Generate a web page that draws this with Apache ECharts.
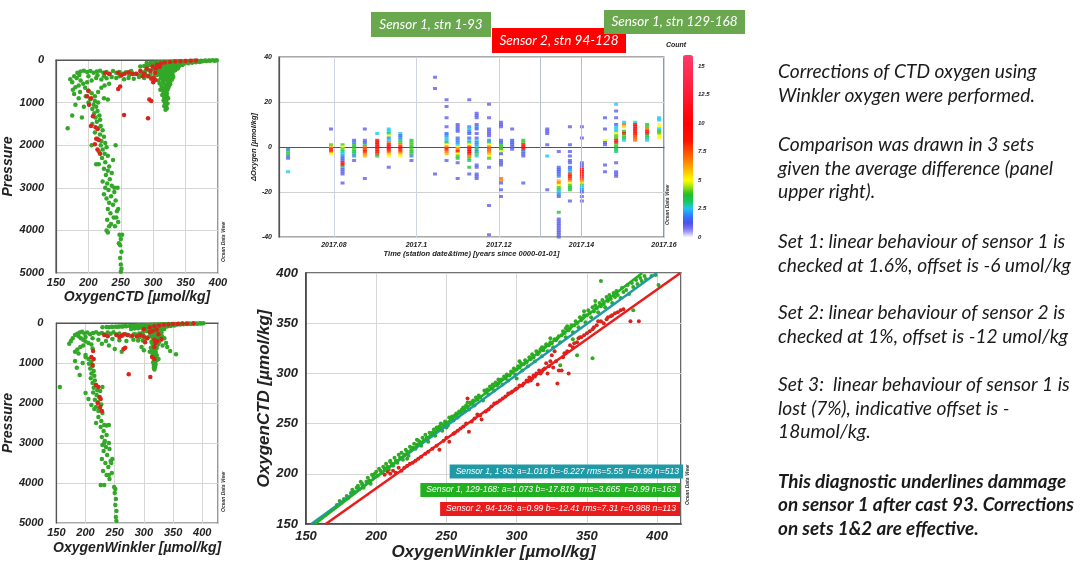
<!DOCTYPE html>
<html><head><meta charset="utf-8">
<script src="https://cdn.jsdelivr.net/npm/echarts@6/dist/echarts.min.js"></script>
<style>html,body{margin:0;padding:0;background:#fff}#c{width:1086px;height:563px}</style>
</head><body><div id="c"></div>
<script>
// ---------- DATA ----------
// Profile panel 1: [OxygenCTD, Pressure]
const ctdGreen = [[398,5],[392,8],[386,10],[380,12],[374,15],[368,18],[362,20],[356,22],[350,25],[344,28],[338,30],[332,35],[326,40],[320,45],[314,50],[308,55],[302,60],[296,65],[290,70],
[395,15],[388,20],[382,25],[376,28],[370,32],[364,36],[358,40],[352,45],[346,50],[340,55],[334,60],[328,70],[322,80],[316,90],[310,100],[304,110],[298,120],[292,130],[286,140],[280,150],
[372,45],[366,55],[360,65],[354,75],[348,85],[342,95],[336,110],[330,125],[324,140],[318,160],[312,180],[306,200],[300,220],[294,240],[288,260],[282,280],
[345,120],[340,140],[335,160],[330,180],[326,200],[322,230],[318,260],[314,290],[310,320],[306,350],[302,380],
[338,200],[334,240],[330,280],[327,320],[324,360],[321,400],[318,450],[315,500],[330,350],[328,420],[325,480],[323,550],[320,600],[318,650],[316,700],[322,700],[320,750],[318,800],[321,850],[319,900],[320,950],[318,1000],[319,1050],[320,1100],[319,1170],[312,420],[308,480],[310,550],[313,620],[316,760],[324,620],[326,520],[311,700],[314,820],[317,880],
[300,80],[306,75],[312,70],[318,65],[324,60],[330,55],[336,50],[342,45],[348,40],[354,35],[360,30],[296,100],[302,95],[308,90],[314,85],[320,80],[326,75],[332,70],[338,65],[344,60],[303,130],[309,125],[315,120],[321,115],[327,110],[333,105],[339,100],[305,170],[311,160],[317,150],[323,145],[329,140],[335,135],[307,230],[313,220],[319,210],[325,205],[331,195],[309,280],[315,270],[321,260],[327,250],[333,240],[311,330],[317,320],[323,310],[329,300],[313,380],[319,370],[325,360],[331,400],[314,430],[320,420],[326,440],[317,470],[323,500],[329,460],[316,540],[321,580],[326,570],[319,620],[323,660],[317,720],[321,780],[323,900],[316,950],[322,1020],[317,1080],[321,1140],
[172,450],[175,520],[178,380],[183,300],[188,270],[193,250],[198,280],[203,260],[208,300],[213,270],[218,250],[223,300],[228,280],[233,320],[238,260],[243,300],[248,280],[253,320],[258,290],[263,350],[268,310],[273,330],[278,360],[283,300],[288,340],[248,380],[243,420],[236,400],[228,430],[220,460],[212,420],[205,480],[198,520],[192,560],[185,600],[180,640],[176,700],[188,480],[182,420],[262,420],[270,440],[278,400],[286,420],[294,380],[255,450],[296,320],[266,260],[186,350],[200,380],[214,360],[224,380],
[195,650],[200,720],[205,780],[196,850],[203,920],[210,960],[215,1000],[208,1050],[212,1100],[206,1150],[214,1200],[209,1250],[217,1300],[211,1350],[218,1400],[213,1450],[206,1500],[219,1550],[215,1600],[222,1650],[210,1700],[218,1750],[224,1800],[214,1850],[220,1900],[226,1950],[219,2000],[228,2050],[222,2100],[216,2150],[225,2200],[230,2250],[221,2300],[226,2400],[216,2450],[232,2500],[224,2550],[230,2600],[236,2650],[227,2700],[233,2800],[222,2850],[229,2900],[236,2950],[226,3000],[231,3050],[240,3100],[224,3150],[235,3200],[228,3250],[242,3300],[232,3350],[238,3400],[230,3500],[244,3550],[234,3600],[239,3700],[229,3750],[246,3800],[235,3850],[241,3900],[230,4050],[248,4100],[250,4200],[249,4350],[251,4500],[249,4650],[250,4800],[251,4900],[250,4970],
[168,1600],[175,1300],[185,900],[180,1050],[190,1350],[178,800],[193,1100],[200,1000],[187,750],[230,930],[224,900],[243,3700],[246,3500],[240,3000],[245,3000],[242,2000],[238,2350],[212,2450],[205,2000],[228,4000],[232,3900],[247,4300],[252,4100],[210,850],[215,750],[220,650],[225,600],[232,560]];
const ctdRed = [[200,720],[198,850],[204,900],[201,1050],[207,1320],[204,1550],[211,1580],[214,1620],[212,1850],[216,1880],[210,1980],[218,2200],[214,2100],[255,1290],[292,1370],[294,930],[297,960],[300,520],[303,470],[300,420],[292,380],[286,320],[280,260],[274,320],[268,330],[262,290],[256,320],[251,360],[246,300],[246,680],[249,620],[226,300],[232,330],[299,150],[306,110],[312,80],[318,60],[326,45],[334,35],[342,28],[350,22],[358,15],[366,10],[290,200],[296,250],[304,200],[310,160],[303,300],[297,440],[284,380]];
// Profile panel 2: [OxygenWinkler, Pressure]
const winkGreen = [[402,5],[396,8],[390,10],[384,12],[378,14],[372,16],[366,18],[360,20],[354,22],[348,25],[342,28],[336,30],[330,33],[324,36],[318,40],[312,45],[306,50],[300,55],[294,60],[288,65],[282,70],[276,75],[270,80],[264,85],[258,90],[252,95],[246,100],[240,105],
[398,12],[392,16],[386,20],[380,24],[374,28],[368,32],[362,36],[356,40],[350,45],[344,50],[338,55],[332,60],[326,70],[320,80],[314,90],[308,100],[302,110],[296,120],[290,130],[284,140],[278,150],
[352,60],[346,75],[340,90],[334,105],[328,120],[322,140],[316,160],[310,180],[304,200],[298,230],[292,260],[286,290],
[335,150],[330,180],[326,210],[322,240],[318,270],[314,300],[310,330],[306,360],[302,400],[298,440],[329,260],[325,300],[322,340],[320,380],[318,420],[316,460],[314,500],[320,520],[317,560],[319,600],[321,640],[316,680],[320,720],[318,760],[315,800],[319,850],[317,900],[320,950],[318,1000],[317,1050],[319,1100],[318,1160],[330,420],[335,380],[338,500],[340,600],[332,560],[326,480],[312,620],[310,720],[322,820],[355,780],[345,700],[300,680],[296,600],[325,900],
[305,70],[311,65],[317,60],[323,55],[329,50],[335,45],[341,40],[347,35],[353,30],[359,26],[300,95],[306,90],[312,85],[318,80],[324,75],[330,70],[336,65],[342,60],[305,130],[311,125],[317,120],[323,115],[329,110],[335,100],[308,170],[314,160],[320,150],[326,145],[332,135],[310,220],[316,210],[322,200],[328,190],[312,270],[318,260],[324,250],[330,240],[313,320],[319,310],[325,300],[331,330],[315,370],[321,360],[327,350],[317,420],[323,440],[313,470],[319,510],[324,540],[316,580],[322,620],[318,660],[315,740],[321,780],[318,880],[322,930],[316,980],[320,1040],[317,1120],[262,88],[255,92],[268,78],[280,72],[292,62],[245,96],[236,100],[229,108],
[175,450],[178,380],[172,520],[182,300],[186,270],[190,240],[194,220],[198,260],[203,240],[208,280],[213,250],[218,230],[223,270],[228,250],[233,290],[238,240],[243,270],[248,230],[253,290],[258,260],[263,310],[268,280],[273,300],[278,330],[283,280],[288,320],[293,350],[298,300],[188,330],[192,380],[196,420],[200,460],[205,500],[210,540],[196,560],[191,600],[186,660],[182,720],[200,350],[212,380],[222,420],[235,450],[246,400],[258,430],[270,450],[282,420],[240,560],[228,520],[250,650],[262,720],[290,440],[212,640],[200,800],[188,760],
[200,850],[205,900],[210,960],[206,1020],[212,1080],[208,1140],[214,1200],[210,1260],[215,1320],[209,1380],[216,1440],[212,1500],[218,1560],[214,1620],[220,1680],[213,1740],[219,1800],[224,1860],[216,1920],[221,1980],[227,2040],[218,2100],[224,2160],[229,2250],[222,2350],[227,2450],[218,2500],[232,2550],[236,2560],[226,2600],[231,2700],[236,2800],[228,2850],[233,2950],[240,3000],[229,3050],[235,3100],[241,3150],[231,3200],[237,3300],[228,3400],[243,3450],[234,3500],[239,3600],[230,3700],[245,3750],[236,3800],[241,3900],[232,4050],[249,4100],[251,4150],[250,4250],[252,4400],[251,4550],[253,4700],[252,4850],[253,4950],
[156,1600],[185,1120],[190,1300],[195,1000],[182,950],[200,1750],[205,1900],[210,2050],[215,2150],[222,2200],[240,2550],[244,3500],[246,3400],[226,4050],[240,3800],[232,3000],[229,1600],[225,1700]];
const winkRed = [[213,700],[210,850],[214,900],[212,1050],[218,1550],[222,1600],[224,1850],[226,1900],[221,2000],[228,2200],[225,2100],[274,1280],[311,1350],[314,850],[318,900],[320,500],[323,450],[318,420],[306,380],[300,340],[294,300],[288,340],[280,320],[272,300],[266,280],[262,320],[258,350],[253,300],[265,650],[268,620],[232,300],[238,330],[300,150],[310,110],[318,80],[326,60],[334,45],[342,35],[350,28],[358,22],[366,15],[374,10],[385,5],[310,230],[315,200],[322,170],[325,280],[318,600],[330,400],[302,480]];
// Delta oxygen panel: station time columns and [dOxygen, count] cells
const dTimes = [2017.0689,2017.0793,2017.0821,2017.0849,2017.0875,2017.0905,2017.0933,2017.0961,2017.0988,2017.1045,2017.1073,2017.1100,2017.1128,2017.1146,2017.1176,2017.1205,2017.1232,2017.1259,2017.1317,2017.1345,2017.1372,2017.1401,2017.1457,2017.1484,2017.1503,2017.1530,2017.1559,2017.1588];
const dCells = [
[[-1,1],[-2,3],[-3,4],[-4,2],[-5,1],[-11,2.5]],
[[8,1],[1,4],[0,6],[-1,9],[-2,8],[-3,5]],
[[1,4],[0,5],[-1,4],[-2,3],[-3,2.5],[-4,2],[-5,1.5],[-6,1],[-7,9],[-8,10],[-9,3],[-10,1],[-11,1],[-12,1],[-16,1]],
[[3,1],[2,2],[1,3.5],[0,3.5],[-1,4],[-2,3.5],[-3,3],[-4,2],[-6,1]],
[[8,1],[3,1],[2,1.5],[1,3],[0,7],[-1,8],[-2,9],[-3,7],[-4,6],[-14,1]],
[[6,2.5],[3,9],[2,10],[1,10],[0,9.5],[-1,9],[-2,9],[-3,8],[-4,3.5]],
[[8,2.5],[7,2.5],[6,3],[5,5],[4,2],[3,2.5],[2,7],[1,10],[0,11],[-1,10],[-2,8],[-3,6],[-4,5],[-9,1]],
[[6,2.5],[5,1.5],[4,2],[3,3],[2,4],[1,7],[0,9],[-1,9],[-2,8],[-3,6],[-4,5]],
[[3,3.5],[2,4],[1,4],[0,3.5],[-1,4],[-2,3.5],[-3,4],[-4,2],[-6,1]],
[[31,1],[26,1],[-12,1]],
[[21,1],[18,1],[13,1],[9,1],[6,1.5],[5,2],[4,2.5],[3,2.5],[2,3.5],[1,5],[0,7],[-1,9],[-2,7],[-3,6],[-6,1]],
[[10,1],[9,1],[8,1],[7,1.5],[4,1],[3,2],[2,2],[1,2.5],[0,5],[-1,7],[-2,9],[-3,5],[-4,4],[-5,3.5],[-7,1],[-14,1]],
[[21,1],[9,2],[8,2.5],[7,2],[6,1.5],[4,1],[3,2.5],[2,3],[1,5],[0,8],[-1,9],[-2,10],[-3,9],[-4,7],[-5,4],[-6,3],[-9,3.5],[-12,1]],
[[15,1],[14,1],[13,1],[10,1],[9,2],[8,1.5],[6,1],[4,1],[3,2.5],[2,2],[1,2],[0,2.5],[-1,3.5],[-2,2],[-3,4],[-4,2.5],[-8,1],[-9,1],[-12,1],[-13,1],[-14,1]],
[[19,1],[13,1],[8,1],[7,1],[6,1],[5,1],[3,2],[2,3],[1,5],[0,7],[-1,7.5],[-2,7],[-3,6],[-4,5],[-5,4],[-9,1],[-26,1],[-39,1]],
[[11,1],[10,1],[9,1],[3,1],[2,1.5],[1,3.5],[0,4],[-1,3.5],[-2,5],[-3,1.5],[-6,1],[-7,1],[-8,1],[-14,7],[-15,6.5],[-16,1],[-19,1],[-22,1]],
[[8,1],[3,1.5],[2,1.5],[1,1.5],[0,1],[-1,1]],
[[3,3.5],[2,4],[1,9],[0,9],[-1,9],[-2,2],[-3,1],[-4,1],[-16,1]],
[[8,1],[7,1],[6,1],[1,1],[-4,2.5],[-19,1]],
[[-2,1],[-9,1],[-10,1.5],[-11,1.5],[-12,1],[-13,2],[-15,6],[-16,7],[-17,5],[-18,4],[-19,3],[-20,2.5],[-21,2],[-22,1],[-29,3.5],[-32,1],[-33,1],[-34,1],[-35,1],[-36,1],[-37,1],[-38,1],[-39,1],[-40,1]],
[[9,1],[1,1],[-2,1],[-4,1],[-6,1],[-7,1],[-9,1.5],[-10,2],[-11,2.5],[-12,8],[-13,9],[-14,8],[-15,7],[-16,5],[-17,4],[-18,3.5],[-19,3.5],[-24,1]],
[[9,1],[4,1],[-7,1],[-8,1],[-9,1],[-10,9],[-11,10],[-12,9],[-13,9],[-14,8],[-15,7],[-16,5.5],[-17,3],[-18,2.5],[-19,2],[-20,1],[-22,1],[-24,1]],
[[13,1],[8,1],[3,5],[2,1.5],[1,1],[-8,1],[-11,1]],
[[19,2.5],[16,1],[13,1],[10,1.5],[9,2.5],[8,2.5],[7,2.5],[6,5],[5,4],[4,4],[3,9],[2,9],[1,4],[0,3.5],[-1,3.5],[-2,3],[-7,1],[-11,1],[-12,1],[-13,1]],
[[11,2.5],[10,7],[9,5.5],[7,3.5],[6,9],[5,4],[4,3.5],[3,2.5]],
[[11,2.5],[10,9],[9,10],[8,10],[7,10],[6,9],[5,8],[4,7.5],[3,7]],
[[10,3.5],[9,4],[8,7],[7,9],[6,9],[5,3.5],[4,3],[3,2.5]],
[[13,2.5],[12,2.5],[10,5],[9,5],[8,2.5],[7,3.5],[6,4],[5,5],[4,5]]
];
const setBounds = [2017.1295, 2017.1435];
const countTicks = [0, 16];
// Scatter panel: [OxygenWinkler, OxygenCTD]
const scatGreen = [[172,169],[175,171],[177,175],[180,176],[182,181],[184,182],[186,186],[188,185],[190,189],[191,186],[193,192],[195,193],[196,190],[198,197],[199,200],[201,198],[203,203],[204,201],[206,205],[208,207],[209,204],[211,210],[212,208],[214,213],[215,211],[217,216],[219,214],[220,219],[222,222],[223,218],[225,224],[226,226],[228,225],[229,229],[231,232],[232,228],[234,233],[236,236],[237,232],[239,238],[240,241],[242,238],[244,244],[245,247],[247,243],[248,249],[250,251],[251,248],[253,255],[255,253],[256,258],[258,256],[260,261],[261,264],[263,262],[265,267],[266,264],[268,270],[270,268],[272,274],[274,276],[276,273],[278,281],[280,279],[282,285],[284,283],[286,288],[288,292],[290,289],[292,295],[294,293],[295,298],[297,301],[299,299],[300,304],[302,306],[304,303],[305,309],[307,311],[308,307],[310,314],[312,316],[313,312],[315,319],[316,321],[318,317],[319,323],[320,326],[322,322],[323,328],[325,330],[326,326],[328,333],[329,335],[331,331],[332,338],[334,340],[335,336],[337,343],[338,345],[340,341],[341,348],[343,350],[344,346],[346,353],[347,355],[349,351],[350,358],[352,360],[353,356],[355,362],[357,365],[358,361],[360,367],[362,369],[363,366],[365,372],[367,374],[368,370],[370,376],[372,378],[374,375],[376,381],[378,383],[380,379],[383,386],[386,389],[389,392],[392,394],[396,397],[399,398],[401,388],[360,392],[354,315],[343,318],[331,308],[383,363],[340,334],[345,336],[318,326],[300,295],[265,271],[250,246],[222,215],[190,190],[205,207],[324,335],[348,362],[356,372],[335,345],[302,312],[287,294],[210,212],[229,234],
[174,173],[179,178],[183,184],[187,188],[189,192],[194,196],[197,199],[200,202],[202,205],[207,210],[210,213],[213,216],[216,219],[218,221],[221,224],[224,227],[227,230],[230,233],[233,236],[235,239],[238,241],[241,244],[243,246],[246,250],[249,252],[252,256],[254,257],[257,260],[259,262],[262,266],[264,268],[267,271],[269,273],[271,276],[273,278],[277,283],[279,284],[281,287],[283,289],[285,291],[287,290],[289,294],[291,297],[293,299],[296,302],[298,305],[301,307],[303,310],[306,313],[309,316],[311,319],[314,322],[317,324],[321,329],[324,331],[327,334],[330,337],[333,342],[336,347],[339,348],[342,352],[345,356],[348,358],[351,363],[354,366],[356,368],[359,370],[361,373],[364,376],[366,378],[369,380],[371,382],[375,385],[379,388],[382,390],[385,393],[388,395],[391,397]];
const scatRed = [[206,199],[210,200],[214,201],[218,203],[222,208],[226,211],[230,215],[235,220],[240,225],[245,224],[248,233],[252,232],[255,240],[258,243],[262,247],[265,275],[266,242],[270,255],[272,259],[275,254],[278,262],[282,267],[286,271],[290,275],[294,280],[297,282],[300,285],[302,288],[305,290],[307,293],[309,296],[310,293],[312,298],[314,300],[315,289],[316,303],[318,302],[320,305],[321,310],[322,300],[324,312],[325,318],[326,306],[327,322],[329,290],[330,303],[332,303],[334,320],[337,300],[338,328],[341,330],[344,335],[348,338],[352,342],[355,346],[358,352],[362,350],[365,356],[368,358],[372,361],[376,364],[381,352],[387,352],
[208,202],[212,203],[216,206],[220,206],[224,210],[228,213],[232,217],[237,222],[243,228],[250,236],[256,241],[260,245],[264,250],[268,252],[274,258],[280,264],[284,270],[288,273],[292,277],[296,281],[299,284],[304,288],[308,292],[311,295],[313,297],[317,300],[319,304],[323,307],[328,312],[333,316],[336,322],[340,326],[343,331],[346,336],[350,340],[354,344],[357,348],[360,352],[364,354],[367,357],[370,360],[374,363]];
// Linear fits CTD = a*Winkler + b
const fitNames = ['Sensor 1, 1-93', 'Sensor 1, 129-168', 'Sensor 2, 94-128'];
const fitA = [1.016, 1.073, 0.99];
const fitB = [-6.227, -17.819, -12.41];
const fitLabels = ['Sensor 1, 1-93: a=1.016 b=-6.227 rms=5.55  r=0.99 n=513',
  'Sensor 1, 129-168: a=1.073 b=-17.819  rms=3.665  r=0.99 n=163',
  'Sensor 2, 94-128: a=0.99 b=-12.41 rms=7.31 r=0.988 n=113'];
const fitColors = ['#1f9aa6', '#20b020', '#e81c1c'];
const sensorLabels = ['Sensor 1, stn 1-93', 'Sensor 2, stn 94-128', 'Sensor 1, stn 129-168'];
const notes = [
  'Corrections of CTD oxygen using\nWinkler oxygen were performed.',
  'Comparison was drawn in 3 sets\ngiven the average difference (panel\nupper right).',
  'Set 1: linear behaviour of sensor 1 is\nchecked at 1.6%, offset is -6 umol/kg',
  'Set 2: linear behaviour of sensor 2 is\nchecked at 1%, offset is -12 umol/kg',
  'Set 3:  linear behaviour of sensor 1 is\nlost (7%), indicative offset is -\n18umol/kg.',
  'This diagnostic underlines dammage\non sensor 1 after cast 93. Corrections\non sets 1&2 are effective.'
];

// ---------- BUILD ----------
const dData = [];
dTimes.forEach((t, i) => dCells[i].forEach(c => dData.push([t, c[0], c[1]])));

// colour ramp (ODV-like rainbow) sampled every 0.25 count
const stops = [[0,'#f8f6ff'],[0.6,'#8a80f0'],[1.2,'#4b4fe8'],[1.9,'#2f7cff'],[2.5,'#1ec8f0'],[3.1,'#14c860'],[3.8,'#20c020'],[4.5,'#b0e810'],[5,'#ffff00'],[6,'#ffb000'],[7.2,'#ff6000'],[8.5,'#ff1000'],[10,'#ff0000'],[13,'#ff1e3c'],[16,'#ff3a6a']];
function hex(c){return [1,3,5].map(i=>parseInt(c.substr(i,2),16));}
const ramp = [];
for (let v = 0; v <= 16.001; v += 0.25) {
  let k = 0; while (k < stops.length - 2 && v > stops[k+1][0]) k++;
  const [v0,c0] = stops[k], [v1,c1] = stops[k+1];
  const f = Math.min(1, Math.max(0, (v - v0) / (v1 - v0)));
  const a = hex(c0), b = hex(c1);
  ramp.push('rgb(' + a.map((x,j)=>Math.round(x + (b[j]-x)*f)).join(',') + ')');
}

const F = 'Liberation Sans';
const plain = v => String(+(+v).toFixed(4));
const lbl = (s) => ({fontFamily:F, fontStyle:'italic', fontWeight:'bold', fontSize:s, color:'#222'});
const albl = (s, extra) => Object.assign(lbl(s), {formatter: plain}, extra);
const split = {lineStyle:{color:'#d6d6d6', width:1}};
const axLine = {lineStyle:{color:'#555', width:1.2}};

const xAxis = [
  {gridIndex:0, type:'value', min:150, max:400, interval:50, name:'OxygenCTD [µmol/kg]', nameLocation:'middle', nameGap:17, nameTextStyle:lbl(14), axisLabel:albl(11,{margin:4}), axisTick:{show:false}, axisLine:axLine, splitLine:split},
  {gridIndex:1, type:'value', min:150, max:427, interval:50, name:'OxygenWinkler [µmol/kg]', nameLocation:'middle', nameGap:18, nameTextStyle:lbl(14), axisLabel:albl(11,{margin:4, showMaxLabel:false}), axisTick:{show:false}, axisLine:axLine, splitLine:split},
  {gridIndex:2, type:'value', min:2017.0667, max:2017.16, splitNumber:5, name:'Time (station date&time) [years since 0000-01-01]', nameLocation:'middle', nameGap:12, nameTextStyle:lbl(7.5), axisLabel:albl(7,{margin:5, showMinLabel:false}), axisTick:{show:false}, axisLine:axLine, splitLine:{lineStyle:{color:'#cdd5e2'}}},
  {gridIndex:3, type:'value', show:false},
  {gridIndex:4, type:'value', min:150, max:417, interval:50, name:'OxygenWinkler [µmol/kg]', nameLocation:'middle', nameGap:20, nameTextStyle:lbl(17), axisLabel:albl(13,{margin:6, showMaxLabel:false}), axisTick:{show:false}, axisLine:{lineStyle:{color:'#444', width:1.6}}, splitLine:split}
];
const yAxis = [
  {gridIndex:0, type:'value', inverse:true, min:0, max:5000, interval:1000, name:'Pressure', nameLocation:'middle', nameGap:34, nameTextStyle:lbl(14), axisLabel:albl(11,{margin:12}), axisTick:{show:false}, axisLine:axLine, splitLine:split},
  {gridIndex:1, type:'value', inverse:true, min:0, max:5000, interval:1000, name:'Pressure', nameLocation:'middle', nameGap:35, nameTextStyle:lbl(14), axisLabel:albl(11,{margin:13}), axisTick:{show:false}, axisLine:axLine, splitLine:split},
  {gridIndex:2, type:'value', min:-40, max:40, interval:20, name:'ΔOxygen [µmol/kg]', nameLocation:'middle', nameGap:19, nameTextStyle:lbl(7.5), axisLabel:albl(7,{margin:7}), axisTick:{show:false}, axisLine:axLine, splitLine:{lineStyle:{color:'#d0d0d0'}}},
  {gridIndex:3, type:'value', position:'right', min:countTicks[0], max:countTicks[1], interval:2.5, name:'Count', nameLocation:'end', nameGap:6, nameTextStyle:Object.assign(lbl(7),{align:'center', padding:[0,0,0,-14]}), axisLabel:albl(6,{margin:5, showMaxLabel:false}), axisTick:{show:false}, axisLine:{show:false}, splitLine:{show:false}},
  {gridIndex:4, type:'value', min:150, max:400, interval:50, name:'OxygenCTD [µmol/kg]', nameLocation:'middle', nameGap:33, nameTextStyle:lbl(17), axisLabel:albl(13,{margin:8}), axisTick:{show:false}, axisLine:{lineStyle:{color:'#444', width:1.6}}, splitLine:split}
];

const gridBase = {show:true, borderColor:'#555', borderWidth:1.2, backgroundColor:'#fff'};
const grid = [
  Object.assign({left:56, top:60, width:162, height:213}, gridBase),
  Object.assign({left:55, top:323, width:163, height:200}, gridBase),
  Object.assign({left:279, top:57, width:385, height:180}, gridBase),
  {left:683, top:55, width:10, height:182, show:false},
  Object.assign({left:306, top:273, width:375, height:251}, gridBase, {borderColor:'#444', borderWidth:1.6})
];

const green = '#33a828', red = '#d8241c';
const pt = (data, xi, color, size) => ({type:'scatter', xAxisIndex:xi, yAxisIndex:xi, data, symbolSize:size, itemStyle:{color, opacity:1}, silent:true, animation:false});

const series = [
  pt(ctdGreen, 0, green, 4.5), pt(ctdRed, 0, red, 4.5),
  pt(winkGreen, 1, green, 4.5), pt(winkRed, 1, red, 4.5),
  {type:'scatter', xAxisIndex:2, yAxisIndex:2, data:dData, symbol:'rect', symbolSize:[4,3], silent:true, animation:false,
   markLine:{silent:true, symbol:'none', label:{show:false}, lineStyle:{color:'#b4c0d4', type:'solid', width:1}, data:setBounds.map(v=>({xAxis:v}))}},
  pt(scatGreen, 4, '#2faa22', 4), pt(scatRed, 4, red, 4)
];
fitA.forEach((a, i) => {
  const b = fitB[i];
  const x1 = (150 - b) / a, x2 = Math.min(417, (400 - b) / a);
  series.push({type:'line', name:fitNames[i], xAxisIndex:4, yAxisIndex:4, data:[[x1, a*x1+b],[x2, a*x2+b]], symbol:'none', lineStyle:{color:fitColors[i], width:2.5}, silent:true, animation:false});
});

// ---------- GRAPHIC ANNOTATIONS ----------
const graphic = [];
const boxes = [[371,12,120,25,'#6aa84f'],[492,28,134,25,'#ff0000'],[604,10,141,24,'#6aa84f']];
sensorLabels.forEach((t, i) => {
  const [x,y,w,h,c] = boxes[i];
  graphic.push({type:'rect', shape:{x, y, width:w, height:h}, style:{fill:c}, z:10});
  graphic.push({type:'text', x:x+w/2, y:y+h/2, style:{text:t, fill:'#fff', font:'italic 13.5px Lato', align:'center', verticalAlign:'middle'}, z:11});
});
const fitBoxY = [471.5, 490, 509], fitBoxR = [683, 680, 680];
fitLabels.forEach((t, i) => {
  graphic.push({type:'text', x:fitBoxR[i], y:fitBoxY[i], style:{text:t, fill:'#fff', font:'italic 8.6px "Liberation Sans"', align:'right', verticalAlign:'middle', backgroundColor:fitColors[i], padding:[3,4,2,6]}, z:12});
});
const noteTop = [60, 133.3, 230, 301.3, 373.3, 470];
notes.forEach((t, i) => {
  graphic.push({type:'text', x:778, y:noteTop[i], style:{text:t, fill:'#1a1a1a', font:(i===5?'italic bold 18.9px Lato':'italic 19.2px Lato'), lineHeight:23.6, verticalAlign:'top'}});
});
[[224,262],[224,512],[668,225],[688,505]].forEach(p => {
  graphic.push({type:'text', x:p[0], y:p[1], rotation:Math.PI/2, style:{text:'Ocean Data View', fill:'#333', font:'italic bold 5px "Liberation Sans"', verticalAlign:'middle'}});
});

const chart = echarts.init(document.getElementById('c'), null, {renderer:'canvas'});
chart.setOption({
  animation:false,
  backgroundColor:'#fff',
  grid, xAxis, yAxis, series, graphic,
  visualMap:[{type:'continuous', seriesIndex:4, dimension:2, min:countTicks[0], max:countTicks[1], left:683, top:55, itemWidth:10, itemHeight:182, padding:0, calculable:false, text:['',''], showLabel:false, inRange:{color:ramp}}]
});
</script></body></html>
